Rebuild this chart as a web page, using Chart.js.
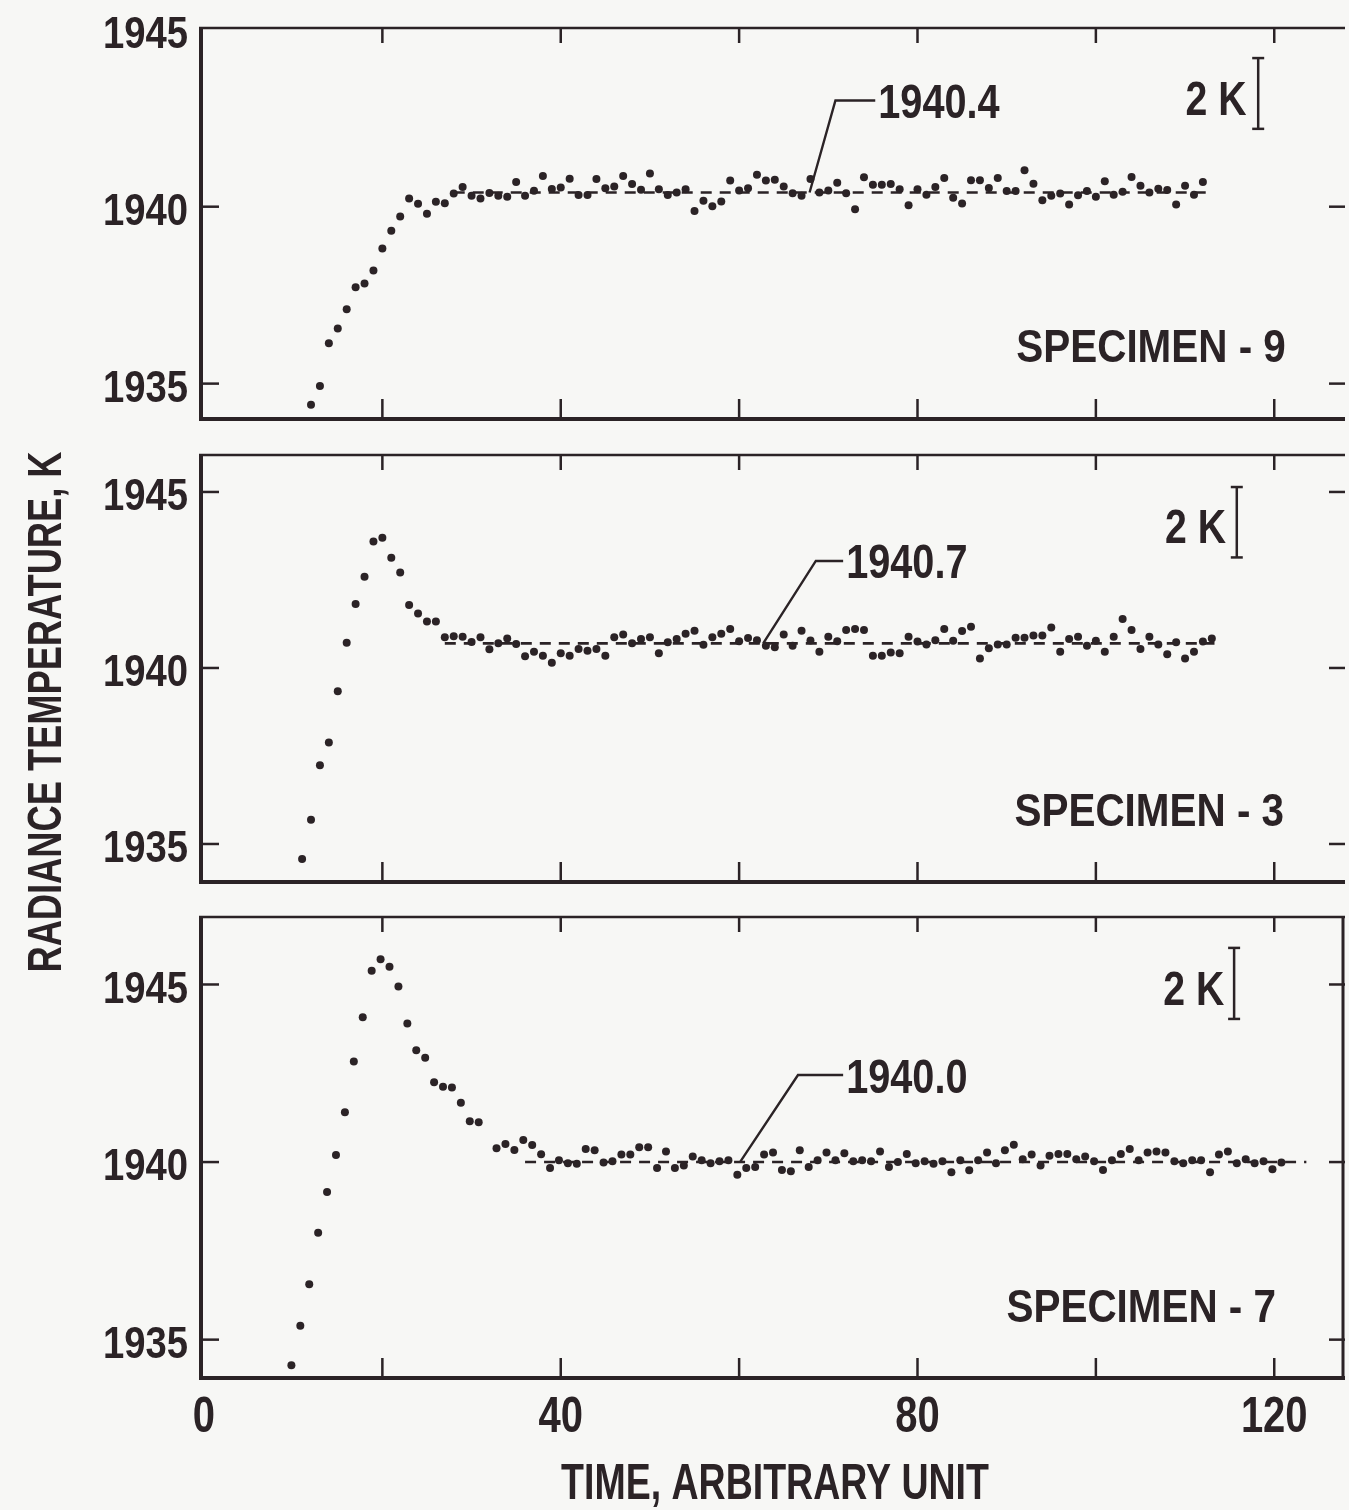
<!DOCTYPE html>
<html>
<head>
<meta charset="utf-8">
<script src="https://cdn.jsdelivr.net/npm/chart.js@4.4.1/dist/chart.umd.min.js"></script>
<style>
html, body { margin: 0; padding: 0; background: #f7f7f5; }
#wrap { position: relative; width: 1349px; height: 1510px; overflow: hidden; }
#wrap canvas { position: absolute; left: 0; top: 0; }
</style>
</head>
<body>
<div id="wrap">
	<canvas id="p9" width="1349" height="1510"></canvas>
	<canvas id="p3" width="1349" height="1510"></canvas>
	<canvas id="p7" width="1349" height="1510"></canvas>
</div>
<script>
// axis ticks
const timeTicks = [20, 40, 60, 80, 100, 120];
const timeLabels = [0, 40, 80, 120];
const tempTicks = [1935, 1940, 1945];

// specimen 9 : one reading per time unit, first at t = 12
const start9 = 12;
const temps9 = [
	1934.40, 1934.93, 1936.14, 1936.56, 1937.10, 1937.72, 1937.83, 1938.20, 1938.82, 1939.32,
	1939.72, 1940.23, 1940.08, 1939.80, 1940.14, 1940.10, 1940.37, 1940.56, 1940.31, 1940.23,
	1940.39, 1940.31, 1940.28, 1940.70, 1940.31, 1940.45, 1940.87, 1940.50, 1940.54, 1940.79,
	1940.33, 1940.33, 1940.78, 1940.52, 1940.57, 1940.87, 1940.64, 1940.48, 1940.94, 1940.49,
	1940.33, 1940.40, 1940.49, 1939.88, 1940.17, 1940.01, 1940.15, 1940.74, 1940.46, 1940.52,
	1940.90, 1940.74, 1940.76, 1940.57, 1940.38, 1940.31, 1940.78, 1940.40, 1940.46, 1940.68,
	1940.38, 1939.93, 1940.83, 1940.62, 1940.62, 1940.64, 1940.49, 1940.04, 1940.49, 1940.34,
	1940.56, 1940.81, 1940.25, 1940.09, 1940.75, 1940.75, 1940.53, 1940.81, 1940.44, 1940.44,
	1941.03, 1940.65, 1940.18, 1940.31, 1940.37, 1940.06, 1940.32, 1940.44, 1940.28, 1940.72,
	1940.34, 1940.42, 1940.84, 1940.59, 1940.40, 1940.51, 1940.47, 1940.06, 1940.59, 1940.34,
	1940.70
];
const mean9 = 1940.4;
const meanSpan9 = [28, 113];

// specimen 3 : first at t = 11
const start3 = 11;
const temps3 = [
	1934.57, 1935.69, 1937.24, 1937.88, 1939.34, 1940.72, 1941.82, 1942.59, 1943.59, 1943.70,
	1943.13, 1942.71, 1941.79, 1941.55, 1941.32, 1941.32, 1940.87, 1940.90, 1940.89, 1940.74,
	1940.87, 1940.53, 1940.70, 1940.84, 1940.68, 1940.33, 1940.46, 1940.35, 1940.15, 1940.42,
	1940.35, 1940.54, 1940.49, 1940.54, 1940.35, 1940.87, 1940.95, 1940.70, 1940.82, 1940.87,
	1940.42, 1940.73, 1940.82, 1940.97, 1941.06, 1940.66, 1940.87, 1940.97, 1941.11, 1940.76,
	1940.85, 1940.79, 1940.63, 1940.59, 1940.95, 1940.63, 1941.06, 1940.78, 1940.46, 1940.89,
	1940.76, 1941.08, 1941.11, 1941.08, 1940.35, 1940.35, 1940.44, 1940.42, 1940.89, 1940.75,
	1940.67, 1940.79, 1941.11, 1940.77, 1941.05, 1941.17, 1940.27, 1940.56, 1940.67, 1940.67,
	1940.86, 1940.86, 1940.92, 1940.92, 1941.15, 1940.46, 1940.82, 1940.89, 1940.63, 1940.77,
	1940.46, 1940.89, 1941.39, 1941.08, 1940.54, 1940.89, 1940.67, 1940.39, 1940.73, 1940.27,
	1940.46, 1940.75, 1940.84
];
const mean3 = 1940.7;
const meanSpan3 = [27, 113.3];

// specimen 7 : first at t = 9.8 (one reading missing near t = 32)
const start7 = 9.8;
const temps7 = [
	1934.28, 1935.39, 1936.56, 1938.01, 1939.16, 1940.20, 1941.40, 1942.83, 1944.08, 1945.39,
	1945.71, 1945.50, 1944.94, 1943.90, 1943.15, 1942.94, 1942.25, 1942.12, 1942.10, 1941.67,
	1941.15, 1941.12, null,    1940.39, 1940.51, 1940.34, 1940.62, 1940.48, 1940.22, 1939.83,
	1940.05, 1939.97, 1939.95, 1940.37, 1940.33, 1939.99, 1940.02, 1940.21, 1940.21, 1940.42,
	1940.42, 1939.83, 1940.30, 1939.83, 1939.90, 1940.16, 1940.05, 1939.97, 1940.02, 1940.05,
	1939.64, 1939.83, 1939.86, 1940.21, 1940.27, 1939.78, 1939.74, 1940.33, 1939.86, 1940.05,
	1940.27, 1940.05, 1940.25, 1940.02, 1940.05, 1940.02, 1940.30, 1939.86, 1940.00, 1940.23,
	1939.97, 1940.02, 1939.95, 1940.02, 1939.71, 1940.05, 1939.77, 1940.05, 1940.27, 1939.97,
	1940.33, 1940.49, 1940.08, 1940.21, 1939.90, 1940.18, 1940.23, 1940.23, 1940.08, 1940.16,
	1940.02, 1939.78, 1940.05, 1940.23, 1940.37, 1940.05, 1940.27, 1940.30, 1940.27, 1940.02,
	1939.97, 1940.05, 1940.05, 1939.71, 1940.21, 1940.30, 1939.97, 1940.08, 1939.97, 1940.02,
	1939.80, 1939.99
];
const mean7 = 1940.0;
const meanSpan7 = [36, 123.6];

const INK = '#2b2326';
const FONT = '"Liberation Sans", Arial, sans-serif';

function toPoints(start, temps) {
	return temps
		.map((t, i) => ({ x: start + i, y: t }))
		.filter(p => p.y !== null);
}

// text helper : condensed face faked with a horizontal scale
function txt(ctx, s, x, y, size, sx, align, rot) {
	ctx.save();
	ctx.translate(x, y);
	if (rot) ctx.rotate(rot);
	ctx.scale(sx, 1);
	ctx.font = `bold ${size}px ${FONT}`;
	ctx.textAlign = align;
	ctx.textBaseline = 'alphabetic';
	ctx.fillText(s, 0, size * 0.358);
	ctx.restore();
}

function line(ctx, x1, y1, x2, y2, w) {
	ctx.lineWidth = w;
	ctx.beginPath();
	ctx.moveTo(x1, y1);
	ctx.lineTo(x2, y2);
	ctx.stroke();
}

function panelPlugin(p) {
	return {
		id: 'deco_' + p.id,
		afterDatasetsDraw(chart) {
			const ctx = chart.ctx;
			const xs = chart.scales.x, ys = chart.scales.y, a = chart.chartArea;
			ctx.save();
			ctx.strokeStyle = INK;
			ctx.fillStyle = INK;

			// frame
			line(ctx, a.left, a.top - 1, a.left, a.bottom + 2, 4);
			line(ctx, a.left - 2, a.top, a.right, a.top, 2.5);
			line(ctx, a.left - 2, a.bottom, a.right, a.bottom, 4);
			if (p.rightBorder) line(ctx, a.right - 2, a.top, a.right - 2, a.bottom, 3);

			// time ticks, inward
			timeTicks.forEach(v => {
				const px = xs.getPixelForValue(v);
				line(ctx, px, a.top, px, a.top + 15, 2.5);
				line(ctx, px, a.bottom, px, a.bottom - 20, 2.5);
			});

			// temperature ticks + labels
			tempTicks.forEach(v => {
				if (v < ys.min || v > ys.max + 0.1) return;
				const py = ys.getPixelForValue(v);
				if (py > a.top + 4) {
					line(ctx, a.left, py, a.left + 18, py, 2.5);
					line(ctx, a.right, py, a.right - 16, py, 2.5);
				}
				txt(ctx, String(v), a.left - 13, py + 2, 45, 0.85, 'right');
			});

			// leader to the mean value
			const L = p.leader;
			ctx.lineWidth = 2.4;
			ctx.beginPath();
			ctx.moveTo(xs.getPixelForValue(L.fromX), ys.getPixelForValue(p.mean));
			ctx.lineTo(xs.getPixelForValue(L.elbowX), ys.getPixelForValue(L.elbowY));
			ctx.lineTo(xs.getPixelForValue(L.textX) - 3, ys.getPixelForValue(L.elbowY));
			ctx.stroke();
			txt(ctx, p.mean.toFixed(1), xs.getPixelForValue(L.textX), ys.getPixelForValue(L.elbowY), 49, 0.81, 'left');

			// 2 K scale bar
			const B = p.bar;
			const bx = xs.getPixelForValue(B.x);
			const bt = ys.getPixelForValue(B.top), bb = ys.getPixelForValue(B.top - 2);
			line(ctx, bx, bt, bx, bb, 2.5);
			line(ctx, bx - 6, bt, bx + 6, bt, 2.5);
			line(ctx, bx - 6, bb, bx + 6, bb, 2.5);
			txt(ctx, '2 K', xs.getPixelForValue(B.textX), ys.getPixelForValue(B.textY), 49, 0.8, 'right');

			// specimen name
			txt(ctx, p.name, xs.getPixelForValue(p.nameX), ys.getPixelForValue(p.nameY), 47, 0.86, 'right');

			if (p.bottomAxis) {
				timeLabels.forEach(v => {
					txt(ctx, String(v), xs.getPixelForValue(v), a.bottom + 36, 50, 0.8, 'center');
				});
				txt(ctx, 'TIME, ARBITRARY UNIT', 775, 1481, 50, 0.75, 'center');
			}
			if (p.yTitle) {
				txt(ctx, 'RADIANCE TEMPERATURE, K', 43, 712, 49, 0.74, 'center', -Math.PI / 2);
			}
			ctx.restore();
		}
	};
}

const panels = [
	{ id: 'p9', name: 'SPECIMEN - 9', start: start9, temps: temps9, mean: mean9, span: meanSpan9,
		top: 28, bottom: 419, yMin: 1934.0, yMax: 1945.05,
		leader: { fromX: 67.9, elbowX: 70.8, elbowY: 1943.0, textX: 75.6 },
		bar: { x: 118.2, top: 1944.2, textX: 116.9, textY: 1943.1 },
		nameX: 121.3, nameY: 1936.1 },
	{ id: 'p3', name: 'SPECIMEN - 3', start: start3, temps: temps3, mean: mean3, span: meanSpan3,
		top: 455, bottom: 882, yMin: 1933.92, yMax: 1946.05, yTitle: true,
		leader: { fromX: 62.7, elbowX: 68.6, elbowY: 1943.04, textX: 72.0 },
		bar: { x: 115.8, top: 1945.14, textX: 114.6, textY: 1944.06 },
		nameX: 121.1, nameY: 1936.0 },
	{ id: 'p7', name: 'SPECIMEN - 7', start: start7, temps: temps7, mean: mean7, span: meanSpan7,
		top: 917, bottom: 1378, yMin: 1933.92, yMax: 1946.9, bottomAxis: true, rightBorder: true,
		leader: { fromX: 60.1, elbowX: 66.6, elbowY: 1942.45, textX: 72.0 },
		bar: { x: 115.5, top: 1946.03, textX: 114.4, textY: 1944.93 },
		nameX: 120.2, nameY: 1935.97 }
];

const PX_PER_UNIT = 8.95;
const LEFT = 201, RIGHT = 1349, X0 = 204;
const xMin = (LEFT - X0) / PX_PER_UNIT;
const xMax = (RIGHT - X0) / PX_PER_UNIT;

panels.forEach(p => {
	const ctx = document.getElementById(p.id).getContext('2d');
	new Chart(ctx, {
		type: 'scatter',
		data: {
			datasets: [{
				label: p.name,
				data: toPoints(p.start, p.temps),
				pointRadius: 4,
				pointBackgroundColor: INK,
				pointBorderWidth: 0,
				showLine: false
			}, {
				label: 'mean',
				type: 'line',
				data: [{ x: p.span[0], y: p.mean }, { x: p.span[1], y: p.mean }],
				borderColor: INK,
				borderWidth: 2.6,
				borderDash: [11, 8],
				pointRadius: 0,
				fill: false
			}]
		},
		options: {
			responsive: false,
			animation: false,
			events: [],
			layout: { padding: { left: LEFT, right: 1349 - RIGHT, top: p.top, bottom: 1510 - p.bottom } },
			scales: {
				x: { type: 'linear', min: xMin, max: xMax, display: false },
				y: { type: 'linear', min: p.yMin, max: p.yMax, display: false }
			},
			plugins: { legend: { display: false }, tooltip: { enabled: false } }
		},
		plugins: [panelPlugin(p)]
	});
});
</script>
</body>
</html>
